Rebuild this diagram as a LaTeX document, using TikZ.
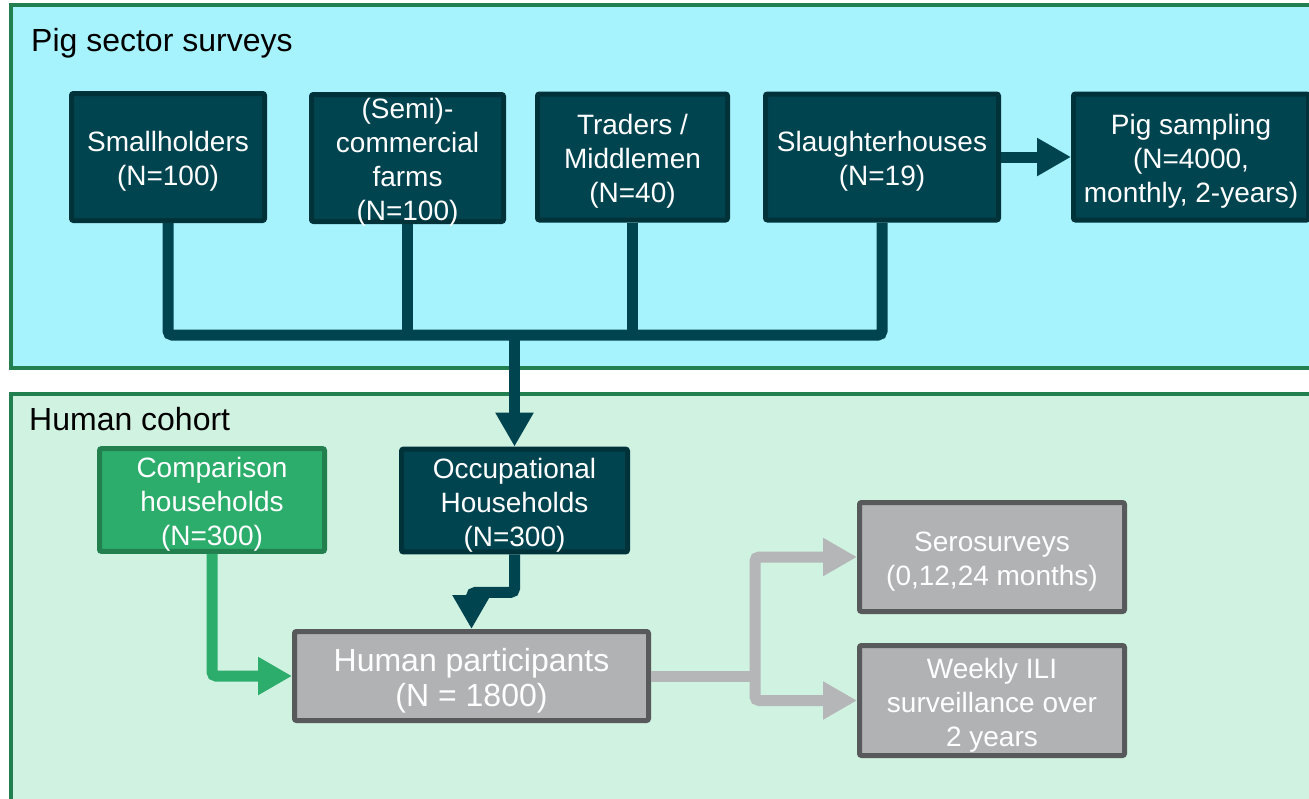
\documentclass[tikz,border=0pt]{standalone}
\usepackage{fontspec}
\setmainfont{Liberation Sans}
\usepackage{tikz}
\usetikzlibrary{arrows.meta, calc}

\definecolor{pigpanel}{HTML}{A7F3FD}
\definecolor{humanpanel}{HTML}{D0F2E1}
\definecolor{panelline}{HTML}{217F50}
\definecolor{darkteal}{HTML}{004450}
\definecolor{tealline}{HTML}{00323A}
\definecolor{compfill}{HTML}{2DAD6B}
\definecolor{compline}{HTML}{227F4E}
\definecolor{greyfill}{HTML}{B1B2B4}
\definecolor{greyline}{HTML}{58595B}
\definecolor{greyconn}{HTML}{B5B6B8}

\newcommand{\boxpad}{\rule{0pt}{29pt}}

\begin{document}
\begin{tikzpicture}[x=1pt, y=-1pt,
    panel/.style={line width=4pt, draw=panelline},
    paneltitle/.style={anchor=west, inner sep=0pt, font=\fontsize{32}{36}\selectfont},
    tealbox/.style={draw=tealline, fill=darkteal, line width=5pt, rounded corners=2pt,
      text=white, align=center, inner sep=0pt, font=\fontsize{28}{34}\selectfont},
    compbox/.style={tealbox, draw=compline, fill=compfill},
    greybox/.style={tealbox, draw=greyline, fill=greyfill},
    tealconn/.style={draw=darkteal, line width=11pt, rounded corners=4pt},
    compconn/.style={tealconn, draw=compfill},
    greyconn/.style={tealconn, draw=greyconn},
    tip/.style={-{Triangle[length=34pt, width=36pt]}}]

      \useasboundingbox (0,0) rectangle (1309,798);

      % panels
      \fill[white] (0,0) rectangle (1309,798);
      \filldraw[panel, fill=pigpanel] (11,5) rectangle (1330,368);
      \filldraw[panel, fill=humanpanel] (11,394) rectangle (1330,820);

      \node[paneltitle] (pigtitle) at (31,43) {Pig sector surveys};
      \node[paneltitle] (humantitle) at (29,419) {Human cohort};

      % pig sector
      \node[tealbox, minimum width=193, minimum height=127] (small) at (168,157)
        {\boxpad Smallholders\\(N=100)};
      \node[tealbox, minimum width=192, minimum height=127,
        text height=124pt, text depth=0pt] (semi) at (407.5,158)
        {(Semi)-\\commercial\\farms\\(N=100)};
      \node[tealbox, minimum width=190, minimum height=126] (traders) at (632.5,157)
        {\boxpad Traders /\\Middlemen\\(N=40)};
      \node[tealbox, minimum width=233, minimum height=126] (slaughter) at (882,157)
        {\boxpad Slaughterhouses\\(N=19)};
      \node[tealbox, minimum width=235, minimum height=126] (pig) at (1191,157)
        {\boxpad Pig sampling\\(N=4000,\\monthly, 2-years)};

      \coordinate (bus) at (516,335);

      \draw[tealconn] (small.south) |- (bus) -| (slaughter.south);
      \draw[tealconn] (semi.south) -- (semi.south |- bus);
      \draw[tealconn] (traders.south) -- (traders.south |- bus);
      \draw[tealconn, tip] (slaughter.east) -- (pig.west);

      % human cohort
      \node[compbox, minimum width=225, minimum height=101] (comp) at (212,500)
        {\boxpad Comparison\\households\\(N=300)};
      \node[tealbox, minimum width=226, minimum height=102] (occ) at (514.5,500.5)
        {\boxpad Occupational\\Households\\(N=300)};
      \node[greybox, minimum width=354, minimum height=89,
        font=\fontsize{32}{35}\selectfont] (part) at (471.5,676)
        {\rule{0pt}{32pt}Human participants\\(N = 1800)};
      \node[greybox, minimum width=265, minimum height=109] (sero) at (992,557)
        {\boxpad Serosurveys\\(0,12,24 months)};
      \node[greybox, minimum width=265, minimum height=110] (weekly) at (992,700.5)
        {\boxpad Weekly ILI\\surveillance over\\2 years};

      \draw[tealconn, tip] (occ.north |- bus) -- (occ.north);
      \draw[compconn, tip] (comp.south) |- (part.west);
      \draw[tealconn, tip] (occ.south) -- ++(0,38) -| (part.north);

      \draw[greyconn] (part.east) -- ++(104,0) coordinate (split);
      \draw[greyconn, tip] (split) |- (sero.west);
      \draw[greyconn, tip] (split) |- (weekly.west);

\end{tikzpicture}
\end{document}
